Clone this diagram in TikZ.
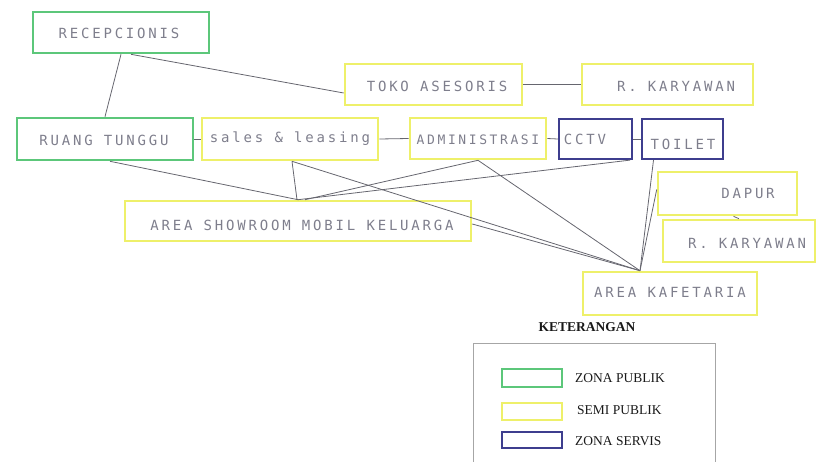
\documentclass[tikz,border=0pt]{standalone}
\usepackage{fontspec}
\setmainfont{Liberation Serif}
\newfontfamily\cadfont[LetterSpace=20]{DejaVu Sans Mono}
\usetikzlibrary{calc}

\definecolor{zpub}{HTML}{5CC77A}
\definecolor{zsemi}{HTML}{EEF06A}
\definecolor{zserv}{HTML}{3E3E8E}
\definecolor{linkgray}{HTML}{66666F}
\definecolor{cadtext}{HTML}{7E7E8C}

\tikzset{
  zone/.style={rectangle, inner sep=0pt, line width=2.6pt},
  publik/.style={zone, draw=zpub},
  semi/.style={zone, draw=zsemi},
  servis/.style={zone, draw=zserv, line width=2.2pt},
  cad/.style={font=\cadfont\fontsize{14}{14}\selectfont, text=cadtext, inner sep=0pt},
  cadsmall/.style={cad, font=\cadfont\fontsize{13}{13}\selectfont},
  link/.style={draw=linkgray, line width=0.8pt},
  legtext/.style={font=\fontsize{13.5}{14}\selectfont, text=black!90, inner sep=0pt, anchor=west},
}

\begin{document}
\begin{tikzpicture}[x=1pt, y=-1pt]
\useasboundingbox (0,0) rectangle (819,461);

% zone boxes
\node[publik, minimum width=176pt, minimum height=41pt] (rec)    at (121,32.5)  {};
\node[semi,   minimum width=177pt, minimum height=41pt] (toko)   at (433.5,84.5) {};
\node[semi,   minimum width=171pt, minimum height=41pt] (rk1)    at (667.5,84.5) {};
\node[publik, minimum width=176pt, minimum height=42pt] (rt)     at (105,139)   {};
\node[semi,   minimum width=176pt, minimum height=42pt] (sales)  at (290,139)   {};
\node[semi,   minimum width=136pt, minimum height=41pt] (admin)  at (478,138.5) {};
\node[servis, minimum width=73pt,  minimum height=40pt] (cctv)   at (595.5,139) {};
\node[servis, minimum width=81pt,  minimum height=40pt] (toilet) at (682.5,139) {};
\node[semi,   minimum width=139pt, minimum height=43pt] (dapur)  at (727.5,193.5) {};
\node[semi,   minimum width=152pt, minimum height=42pt] (rk2)    at (739,241)   {};
\node[semi,   minimum width=346pt, minimum height=40pt] (show)   at (298,221)   {};
\node[semi,   minimum width=174pt, minimum height=43pt] (kaf)    at (670,293.5) {};

% room names
\node[cad] (rec-t)    at (119,33)  {RECEPCIONIS};
\node[cad] (toko-t)   at (437,86)  {TOKO ASESORIS};
\node[cad] (rk1-t)    at (676,86)  {R. KARYAWAN};
\node[cad] (rt-t)     at (104,140) {RUANG TUNGGU};
\node[cad] (sales-t)  at (290,139) {sales \& leasing};
\node[cadsmall] (admin-t) at (478,140) {ADMINISTRASI};
\node[cad] (cctv-t)   at (585,139) {CCTV};
\node[cad] (toilet-t) at (683,144) {TOILET};
\node[cad] (dapur-t)  at (748,193) {DAPUR};
\node[cad] (rk2-t)    at (747,243) {R. KARYAWAN};
\node[cad] (show-t)   at (302,225) {AREA SHOWROOM MOBIL KELUARGA};
\node[cad] (kaf-t)    at (670,292) {AREA KAFETARIA};

% relations
\coordinate (kin) at ([xshift=-30pt]kaf.north);
\path[link] (rec.south) -- (rt.north);
\path[link] ([xshift=10pt]rec.south) -- ([yshift=-8.5pt]toko.west);
\path[link] (toko.east) -- (rk1.west);
\path[link] (rt.east) -- (sales.west);
\path[link] (sales.east) -- (admin.west);
\path[link] (admin.east) -- (cctv.west);
\path[link] (cctv.east) -- (toilet.west);
\path[link] ([xshift=5pt]rt.south) -- (show.north);
\path[link] ([xshift=2pt]sales.south) -- ([xshift=-1pt]show.north);
\path[link] ([xshift=2pt]sales.south) -- (kin);
\path[link] ([xshift=7pt]show.north) -- (admin.south);
\path[link] (show.north) -- ([xshift=-3pt]cctv.south east);
\path[link] (admin.south) -- (kin);
\path[link] ([yshift=-3pt]show.east) -- (kin);
\path[link] ([xshift=-29pt]toilet.south) -- (kin);
\path[link] ([yshift=4pt]dapur.west) -- (kin);
\path[link] ([xshift=6pt]dapur.south) -- (rk2.north);

% legend
\node[font=\bfseries\fontsize{13.5}{14}\selectfont, text=black!90, inner sep=0pt] (ket) at (587,327) {KETERANGAN};
\node[draw=gray!70, line width=0.8pt, minimum width=242pt, minimum height=130pt, inner sep=0pt] (legend) at (594,408) {};
\node[publik, line width=2pt, minimum width=60pt, minimum height=18pt] (sw-pub)  at (532,377.5) {};
\node[semi,   line width=2pt, minimum width=60pt, minimum height=17pt] (sw-semi) at (532,411.5) {};
\node[servis, line width=2pt, minimum width=60pt, minimum height=16pt] (sw-serv) at (532,440)   {};
\node[legtext] (lg-pub)  at (575,378) {ZONA PUBLIK};
\node[legtext] (lg-semi) at (577,410) {SEMI PUBLIK};
\node[legtext] (lg-serv) at (575,441) {ZONA SERVIS};
\end{tikzpicture}
\end{document}
